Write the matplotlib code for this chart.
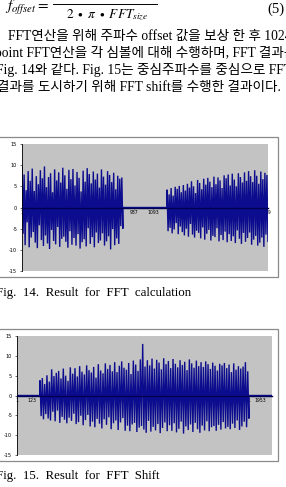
import numpy as np
import matplotlib.pyplot as plt
from matplotlib.patches import Rectangle
from matplotlib.lines import Line2D

plt.rcParams['mathtext.fontset'] = 'stix'

# ---- data ----
fft_n = 2048
fft_ticks = [1, 157, 313, 469, 625, 781, 937, 1093, 1249, 1405, 1561, 1717, 1873, 2029]
fft_left_span = (1, 840)
fft_left = [9.5, -6.2, 7.8, -8.9, 4.1, -3.5, 8.6, -9.4, 6.3, -7.1, 9.2, -5.8, 3.9, -8.3, 7.4, -9.6, 5.5, -4.2, 8.8, -7.7,
            6.9, -9.1, 9.7, -6.6, 4.8, -8.5, 7.2, -9.8, 8.1, -5.3, 3.6, -7.9, 9.0, -8.7, 6.4, -4.6, 8.3, -9.3, 5.9, -7.4,
            9.4, -6.9, 7.6, -8.1, 4.4, -9.5, 8.9, -5.6, 6.7, -8.8, 9.1, -7.2, 5.2, -9.0, 8.4, -6.3, 7.0, -9.7, 3.8, -8.2,
            8.7, -7.5, 6.1, -9.2, 9.3, -4.9, 7.9, -8.6, 5.7, -7.0, 8.5, -9.4, 6.6, -5.9, 8.0, -8.4, 4.7, -7.8, 9.0, -6.1,
            7.3, -9.0, 5.4, -8.0, 8.6, -6.8, 7.7, -9.9, 6.0, -5.1, 8.2, -8.9, 4.3, -7.3, 7.5, -8.6, 6.8, -4.4, 7.1, -5.0]
fft_right_span = (1208, 2048)
fft_right = [4.2, -5.6, 3.1, -4.8, 4.6, -6.1, 2.8, -5.2, 4.9, -3.7, 4.4, -6.3, 5.1, -4.5, 3.6, -5.8, 5.3, -6.6, 4.0, -5.0,
             5.6, -6.9, 4.7, -3.9, 6.2, -6.4, 5.0, -7.1, 3.4, -5.5, 6.5, -6.0, 5.8, -7.3, 4.3, -4.7, 6.8, -7.6, 5.4, -6.2,
             7.0, -5.3, 6.1, -7.8, 4.8, -6.7, 7.3, -7.0, 5.5, -4.9, 7.1, -8.0, 6.4, -6.5, 4.6, -7.7, 7.6, -5.7, 6.9, -8.2,
             7.8, -6.3, 5.2, -7.9, 8.0, -6.8, 6.6, -8.4, 5.0, -5.4, 8.1, -7.4, 7.2, -8.6, 5.9, -6.0, 8.3, -8.1, 6.3, -7.2,
             8.6, -5.9, 7.4, -8.8, 6.0, -7.6, 8.8, -6.7, 7.5, -9.0, 5.6, -8.3, 8.5, -7.1, 6.7, -9.3, 8.2, -6.4, 7.7, -8.0]

shift_ticks = [1, 123, 245, 367, 489, 611, 733, 855, 977, 1099, 1221, 1343, 1465, 1587, 1709, 1831, 1953]
shift_span = (185, 1863)
shift_vals = [3.8, -5.2, 4.4, -6.0, 2.9, -4.7, 5.1, -5.8, 3.5, -6.3, 6.6, -4.1, 4.9, -6.5, 5.7, -3.8, 6.2, -6.9, 4.3, -5.4,
              6.8, -6.1, 5.0, -7.0, 3.7, -5.6, 7.1, -6.4, 5.5, -4.6, 6.9, -7.2, 4.8, -6.7, 7.4, -5.1, 6.0, -7.5, 5.3, -6.2,
              7.6, -4.9, 6.4, -7.8, 5.8, -6.6, 7.2, -8.0, 4.5, -5.9, 7.9, -7.1, 6.3, -8.3, 5.6, -6.0, 8.1, -7.4, 6.7, -5.5,
              7.7, -8.5, 6.1, -7.0, 8.4, -6.3, 5.9, -8.7, 7.5, -6.8, 8.6, -5.7, 7.0, -8.9, 6.5, -7.6, 8.2, -9.0, 5.4, -7.3,
              8.8, -6.9, 7.8, -9.2, 6.2, -8.1, 9.1, -7.7, 13.0, -8.6, 7.3, -9.4, 8.9, -6.4, 7.6, -9.1, 9.3, -7.9, 6.8, -8.8,
              9.0, -7.2, 8.3, -9.5, 6.6, -8.2, 9.4, -6.8, 7.9, -9.0, 8.7, -7.5, 6.9, -8.9, 9.2, -7.0, 8.0, -9.3, 7.1, -8.4,
              8.9, -6.6, 7.7, -9.6, 8.5, -7.8, 6.4, -8.7, 9.1, -7.3, 8.1, -9.2, 7.0, -6.9, 8.8, -8.5, 7.4, -9.4, 8.4, -7.6,
              7.2, -8.8, 8.6, -6.5, 7.9, -9.0, 6.7, -8.0, 8.3, -7.7, 7.5, -8.9, 6.3, -7.4, 8.0, -8.6, 7.6, -6.7, 8.2, -8.3,
              6.9, -7.9, 7.8, -8.5, 5.9, -7.1, 8.1, -8.2, 6.5, -6.3, 7.4, -8.7, 6.8, -7.8, 7.3, -6.6, 8.4, -8.0, 6.1, -5.8]
y_ticks = [-15, -10, -5, 0, 5, 10, 15]

W, H = 286, 487
line_col = '#0c0c8e'
gray = '#c3c3c3'

fig = plt.figure(figsize=(W / 100, H / 100), dpi=100)


def fx(px):
    return px / W


def fy(py):
    return 1 - py / H


def segment(span, vals):
    x = np.linspace(span[0], span[1], len(vals))
    return x, np.array(vals)


def make_chart(box, area, segs, ticks):
    fig.add_artist(Rectangle((fx(box[0]), fy(box[3])), fx(box[2] - box[0]), (box[3] - box[1]) / H,
                             transform=fig.transFigure, facecolor='white', edgecolor='#8a8a8a', lw=0.9,
                             zorder=-1))
    ax = fig.add_axes([fx(area[0]), fy(area[3]), fx(area[2] - area[0]), (area[3] - area[1]) / H])
    ax.set_facecolor(gray)
    xs, ys = [], []
    for span, vals in segs:
        x, y = segment(span, vals)
        xs.append(x)
        ys.append(y)
    x = np.concatenate(xs)
    y = np.concatenate(ys)
    ax.plot(x, y, color=line_col, lw=1.0, solid_joinstyle='miter')
    ax.set_xlim(0.5, fft_n + 0.5)
    ax.set_ylim(-15, 15)
    for s in ['top', 'right']:
        ax.spines[s].set_visible(False)
    ax.spines['bottom'].set_position(('data', 0))
    ax.spines['bottom'].set_color('#000050')
    ax.spines['left'].set_linewidth(0.6)
    ax.spines['bottom'].set_linewidth(1.0)
    ax.set_xticks(ticks)
    ax.set_xticklabels([str(t) for t in ticks], fontsize=3.3)
    ax.set_yticks(y_ticks)
    ax.set_yticklabels([str(t) for t in y_ticks], fontsize=3.6)
    ax.tick_params(axis='x', length=1.5, width=0.4, pad=1, direction='inout')
    ax.tick_params(axis='y', length=1.5, width=0.4, pad=2)
    return ax


# Fig. 14: plain FFT result (zeros in the middle)
make_chart((-2, 137, 278, 277), (22, 144, 268, 271),
           [(fft_left_span, fft_left),
            ((fft_left_span[1], fft_right_span[0]), [0, 0]),
            (fft_right_span, fft_right)],
           fft_ticks)

# Fig. 15: after FFT shift (zeros at both ends)
make_chart((-2, 329, 278, 461), (17, 336, 272, 455),
           [((1, shift_span[0]), [0, 0]),
            (shift_span, shift_vals),
            ((shift_span[1], fft_n), [0, 0])],
           shift_ticks)

# ---- text around the figures ----
ko = ['Liberation Serif', 'Noto Sans CJK KR']
fig.text(fx(5), fy(8), r'$f_{offset}=$', fontsize=11, va='center', ha='left')
fig.add_artist(Line2D([fx(53), fx(157)], [fy(4), fy(4)], transform=fig.transFigure, color='black', lw=0.7))
fig.text(fx(107), fy(15), r'$2\ \bullet\ \pi\ \bullet\ FFT_{size}$', fontsize=9.5, va='center', ha='center')
fig.text(fx(284), fy(9), '(5)', fontsize=10.5, va='center', ha='right', family=ko)

lines = [(8, 36, 'FFT연산을 위해 주파수 offset 값을 보상 한 후 1024'),
         (-5, 53, 'point FFT연산을 각 심볼에 대해 수행하며, FFT 결과는'),
         (-4, 70, 'Fig. 14와 같다. Fig. 15는 중심주파수를 중심으로 FFT'),
         (-3, 87, '결과를 도시하기 위해 FFT shift를 수행한 결과이다.')]
for x0, y0, s in lines:
    fig.text(fx(x0), fy(y0), s, fontsize=9.8, va='center', ha='left', family=ko)

fig.text(fx(-4), fy(293), 'Fig.  14.  Result  for  FFT  calculation', fontsize=9.3, va='center', ha='left',
         family='Liberation Serif')
fig.text(fx(-4), fy(476), 'Fig.  15.  Result  for  FFT  Shift', fontsize=9.3, va='center', ha='left',
         family='Liberation Serif')

fig.savefig('out.png', dpi=100)
